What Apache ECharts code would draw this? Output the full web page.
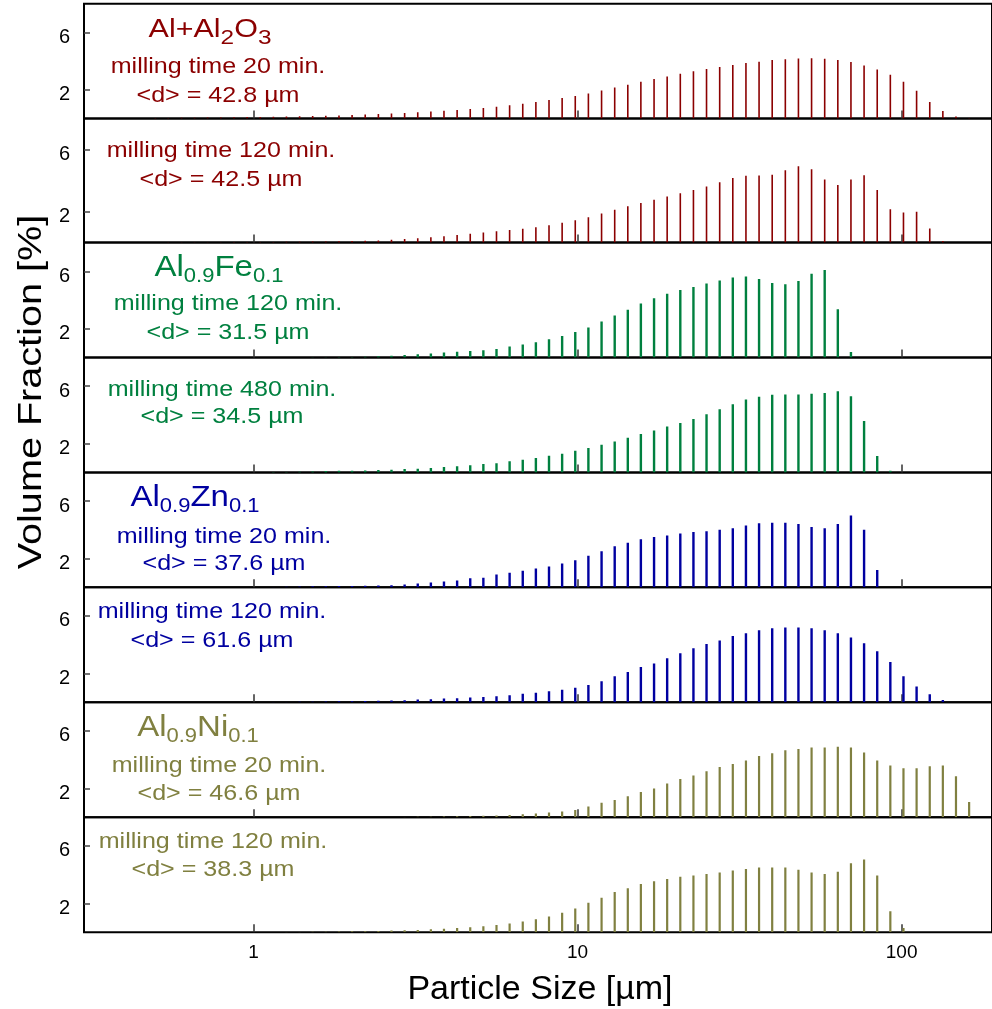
<!DOCTYPE html>
<html>
<head>
<meta charset="utf-8">
<script src="https://cdn.jsdelivr.net/npm/echarts@6/dist/echarts.min.js"></script>
<style>
  html, body { margin: 0; padding: 0; background: #ffffff; }
  #chart { width: 992px; height: 1009px; }
</style>
</head>
<body>
<div id="chart"></div>
<script>
// Size classes of the laser-diffraction analysis [µm]
const sizes = [
  0.498, 0.546, 0.600, 0.658, 0.722, 0.793, 0.871, 0.956, 1.049, 1.152,
  1.264, 1.388, 1.523, 1.672, 1.836, 2.015, 2.212, 2.429, 2.666, 2.927,
  3.213, 3.527, 3.871, 4.250, 4.665, 5.121, 5.622, 6.171, 6.775, 7.437,
  8.164, 8.962, 9.838, 10.80, 11.86, 13.02, 14.29, 15.68, 17.22, 18.90,
  20.75, 22.78, 25.00, 27.45, 30.13, 33.08, 36.31, 39.86, 43.76, 48.03,
  52.73, 57.88, 63.54, 69.75, 76.57, 84.06, 92.27, 101.3, 111.2, 122.1,
  134.0, 147.1, 161.5
];

// Volume fraction [%] per size class
const alAl2O3_20 = [
  0.02, 0.03, 0.04, 0.05, 0.06, 0.07, 0.08, 0.09, 0.10, 0.12,
  0.13, 0.15, 0.17, 0.19, 0.21, 0.24, 0.27, 0.30, 0.34, 0.38,
  0.43, 0.48, 0.53, 0.59, 0.66, 0.72, 0.82, 0.91, 1.02, 1.14,
  1.28, 1.42, 1.56, 1.74, 1.95, 2.16, 2.35, 2.56, 2.74, 2.93,
  3.11, 3.28, 3.44, 3.58, 3.72, 3.86, 3.95, 4.07, 4.13, 4.18,
  4.20, 4.16, 4.07, 3.93, 3.69, 3.41, 3.04, 2.56, 1.93, 1.14,
  0.51, 0.14, 0.02
];
const alAl2O3_120 = [
  0, 0.01, 0.01, 0.02, 0.02, 0.02, 0.03, 0.03, 0.03, 0.04,
  0.05, 0.05, 0.06, 0.07, 0.08, 0.09, 0.11, 0.13, 0.17, 0.22,
  0.28, 0.34, 0.41, 0.49, 0.56, 0.65, 0.73, 0.80, 0.88, 0.99,
  1.12, 1.27, 1.44, 1.63, 1.87, 2.11, 2.34, 2.54, 2.75, 2.97,
  3.18, 3.38, 3.61, 3.89, 4.15, 4.30, 4.32, 4.37, 4.65, 4.92,
  4.73, 4.06, 3.70, 4.06, 4.34, 3.38, 2.15, 1.94, 1.98, 0.90,
  0.09, 0, 0
];
const alFe_120 = [
  0, 0, 0, 0, 0, 0, 0, 0, 0, 0,
  0, 0, 0.01, 0.02, 0.03, 0.04, 0.06, 0.08, 0.13, 0.17,
  0.22, 0.28, 0.35, 0.40, 0.45, 0.51, 0.60, 0.76, 0.90, 1.06,
  1.27, 1.50, 1.78, 2.08, 2.50, 2.92, 3.33, 3.75, 4.12, 4.44,
  4.70, 4.91, 5.14, 5.35, 5.56, 5.63, 5.46, 5.19, 5.09, 5.32,
  5.83, 6.09, 3.36, 0.39, 0, 0, 0, 0, 0, 0,
  0, 0, 0
];
const alFe_480 = [
  0, 0, 0, 0, 0, 0, 0, 0, 0, 0.02,
  0.03, 0.05, 0.07, 0.09, 0.11, 0.12, 0.14, 0.16, 0.19, 0.23,
  0.26, 0.30, 0.37, 0.42, 0.49, 0.58, 0.63, 0.77, 0.88, 1.00,
  1.16, 1.30, 1.51, 1.70, 1.93, 2.16, 2.42, 2.67, 2.91, 3.19,
  3.44, 3.72, 4.05, 4.40, 4.74, 5.07, 5.26, 5.40, 5.42, 5.42,
  5.47, 5.53, 5.65, 5.30, 3.58, 1.14, 0.12, 0, 0, 0,
  0, 0, 0
];
const alZn_20 = [
  0, 0, 0, 0, 0, 0, 0, 0, 0, 0.02,
  0.03, 0.05, 0.06, 0.07, 0.08, 0.09, 0.10, 0.12, 0.14, 0.19,
  0.26, 0.33, 0.40, 0.47, 0.63, 0.65, 0.88, 1.00, 1.15, 1.30,
  1.45, 1.65, 1.88, 2.20, 2.50, 2.85, 3.10, 3.35, 3.50, 3.60,
  3.75, 3.85, 3.90, 4.00, 4.10, 4.30, 4.45, 4.50, 4.50, 4.40,
  4.20, 4.10, 4.40, 5.00, 4.00, 1.20, 0, 0, 0, 0,
  0, 0, 0
];
const alZn_120 = [
  0, 0, 0, 0, 0, 0, 0, 0, 0, 0.01,
  0.02, 0.03, 0.04, 0.05, 0.06, 0.07, 0.09, 0.10, 0.12, 0.14,
  0.19, 0.21, 0.26, 0.28, 0.33, 0.37, 0.42, 0.49, 0.58, 0.66,
  0.76, 0.86, 1.00, 1.20, 1.45, 1.80, 2.10, 2.45, 2.70, 3.05,
  3.40, 3.75, 4.05, 4.30, 4.60, 4.80, 5.00, 5.15, 5.20, 5.20,
  5.15, 5.00, 4.80, 4.50, 4.10, 3.55, 2.80, 1.80, 1.10, 0.55,
  0.15, 0, 0
];
const alNi_20 = [
  0, 0, 0, 0, 0, 0, 0, 0, 0, 0,
  0, 0, 0, 0, 0, 0, 0, 0, 0, 0.01,
  0.03, 0.04, 0.05, 0.06, 0.08, 0.10, 0.12, 0.15, 0.20, 0.25,
  0.32, 0.40, 0.50, 0.75, 1.00, 1.20, 1.45, 1.75, 2.00, 2.35,
  2.65, 2.90, 3.20, 3.50, 3.70, 3.95, 4.25, 4.45, 4.65, 4.75,
  4.85, 4.85, 4.90, 4.85, 4.50, 3.95, 3.60, 3.40, 3.40, 3.55,
  3.60, 2.85, 1.05
];
const alNi_120 = [
  0, 0, 0, 0, 0, 0, 0, 0, 0, 0,
  0.02, 0.02, 0.03, 0.04, 0.05, 0.06, 0.07, 0.09, 0.11, 0.13,
  0.16, 0.20, 0.24, 0.29, 0.35, 0.42, 0.50, 0.60, 0.75, 0.90,
  1.10, 1.35, 1.65, 2.05, 2.40, 2.80, 3.05, 3.35, 3.55, 3.70,
  3.85, 3.95, 4.05, 4.15, 4.30, 4.40, 4.50, 4.50, 4.50, 4.35,
  4.15, 4.05, 4.20, 4.80, 5.05, 3.95, 1.45, 0.30, 0, 0,
  0, 0, 0
];

const xTickValues = [1, 10, 100];
const yTickValues = [2, 6];

const RED = '#8b0000', GREEN = '#00803f', BLUE = '#0000a0', OLIVE = '#808040';
const FONT = '"Liberation Sans", Arial, sans-serif';

const panels = [
  { values: alAl2O3_20,  color: RED,   bar: 1.6, formula: '{m|Al+Al}{s|2}{m|O}{s|3}', time: 'milling time 20 min.',  d: '<d> = 42.8 µm' },
  { values: alAl2O3_120, color: RED,   bar: 1.6, formula: null, time: 'milling time 120 min.', d: '<d> = 42.5 µm' },
  { values: alFe_120,    color: GREEN, bar: 2.4, formula: '{m|Al}{s|0.9}{m|Fe}{s|0.1}', time: 'milling time 120 min.', d: '<d> = 31.5 µm' },
  { values: alFe_480,    color: GREEN, bar: 2.4, formula: null, time: 'milling time 480 min.', d: '<d> = 34.5 µm' },
  { values: alZn_20,     color: BLUE,  bar: 2.4, formula: '{m|Al}{s|0.9}{m|Zn}{s|0.1}', time: 'milling time 20 min.',  d: '<d> = 37.6 µm' },
  { values: alZn_120,    color: BLUE,  bar: 2.4, formula: null, time: 'milling time 120 min.', d: '<d> = 61.6 µm' },
  { values: alNi_20,     color: OLIVE, bar: 2.2, formula: '{m|Al}{s|0.9}{m|Ni}{s|0.1}', time: 'milling time 20 min.',  d: '<d> = 46.6 µm' },
  { values: alNi_120,    color: OLIVE, bar: 2.2, formula: null, time: 'milling time 120 min.', d: '<d> = 38.3 µm' }
];

// Stacked panel frames (px)
const panelEdges = [3.7, 118.4, 242.5, 357.5, 472.4, 587.2, 702.2, 817.2, 932.2];
const plotLeft = 84;
// Annotation placement per panel: [formula x, formula y, text x, time y, d y]
const notePos = [
  [210, 30, 218, 67, 96],
  [0, 0, 221, 151, 180],
  [219, 268, 228, 304, 333],
  [0, 0, 222, 390, 417],
  [195, 498, 224, 537, 564],
  [0, 0, 212, 612, 641],
  [198, 728, 219, 766, 794],
  [0, 0, 213, 842, 870]
];

const grids = [], xAxes = [], yAxes = [], series = [], graphics = [];
const last = panels.length - 1;

panels.forEach((p, i) => {
  grids.push({
    left: plotLeft, right: 0,
    top: panelEdges[i], height: panelEdges[i + 1] - panelEdges[i],
    show: true, borderColor: '#000', borderWidth: 2, backgroundColor: 'transparent'
  });
  xAxes.push({
    type: 'log', gridIndex: i, min: 0.3, max: 190, logBase: 10,
    axisLine: { show: false },
    splitLine: { show: false },
    axisTick: { show: true, inside: true, length: 8, customValues: xTickValues,
      lineStyle: { color: '#333', width: 1.5 } },
    minorTick: { show: false },
    axisLabel: { show: i === last, customValues: xTickValues, margin: 11,
      color: '#000', fontSize: 19, fontFamily: FONT }
  });
  yAxes.push({
    type: 'value', gridIndex: i, min: 0, max: 8,
    axisLine: { show: false },
    splitLine: { show: false },
    axisTick: { show: true, inside: true, length: 6, customValues: yTickValues,
      lineStyle: { color: '#444', width: 1.5 } },
    axisLabel: { customValues: yTickValues, margin: 14, color: '#000',
      fontSize: 20, fontFamily: FONT, verticalAlign: 'top', lineHeight: 10 }
  });
  series.push({
    type: 'custom', xAxisIndex: i, yAxisIndex: i, silent: true, clip: true,
    data: sizes.map((s, k) => [s, p.values[k]]).filter(d => d[1] > 0),
    renderItem: function (params, api) {
      const a = api.coord([api.value(0), 0]);
      const b = api.coord([api.value(0), api.value(1)]);
      return {
        type: 'line',
        shape: { x1: a[0], y1: a[1], x2: b[0], y2: b[1] },
        style: { stroke: p.color, lineWidth: p.bar }
      };
    }
  });

  const pos = notePos[i];
  if (p.formula) {
    const big = i === 0 ? 25 : 30;
    const sub = i === 0 ? 20 : 20;
    graphics.push({
      type: 'text', x: pos[0], y: pos[1], scaleX: i === 0 ? 1.22 : 1.1,
      style: {
        text: p.formula, fill: p.color,
        align: 'center', verticalAlign: 'middle',
        textAlign: 'center', textVerticalAlign: 'middle',
        rich: {
          m: { fontSize: big, fontFamily: FONT, fill: p.color, lineHeight: 36, verticalAlign: 'middle' },
          s: { fontSize: sub, fontFamily: FONT, fill: p.color, lineHeight: 16, verticalAlign: 'bottom' }
        }
      }
    });
  }
  [[p.time, pos[3]], [p.d, pos[4]]].forEach(([txt, y]) => {
    graphics.push({
      type: 'text', x: pos[2], y: y, scaleX: 1.14,
      style: {
        text: txt, fill: p.color, fontSize: 22, fontFamily: FONT,
        align: 'center', verticalAlign: 'middle',
        textAlign: 'center', textVerticalAlign: 'middle'
      }
    });
  });
});

graphics.push({
  type: 'text', x: 32, y: 392, rotation: Math.PI / 2, scaleX: 1.2,
  style: { text: 'Volume Fraction [%]', fill: '#000', fontSize: 33, fontFamily: FONT,
    align: 'center', verticalAlign: 'middle', textAlign: 'center', textVerticalAlign: 'middle' }
});
graphics.push({
  type: 'text', x: 540, y: 990, scaleX: 1.03,
  style: { text: 'Particle Size [µm]', fill: '#000', fontSize: 33, fontFamily: FONT,
    align: 'center', verticalAlign: 'middle', textAlign: 'center', textVerticalAlign: 'middle' }
});

const chart = echarts.init(document.getElementById('chart'), null, { renderer: 'canvas' });
chart.setOption({
  animation: false,
  backgroundColor: '#ffffff',
  grid: grids,
  xAxis: xAxes,
  yAxis: yAxes,
  series: series,
  graphic: graphics
});
</script>
</body>
</html>
